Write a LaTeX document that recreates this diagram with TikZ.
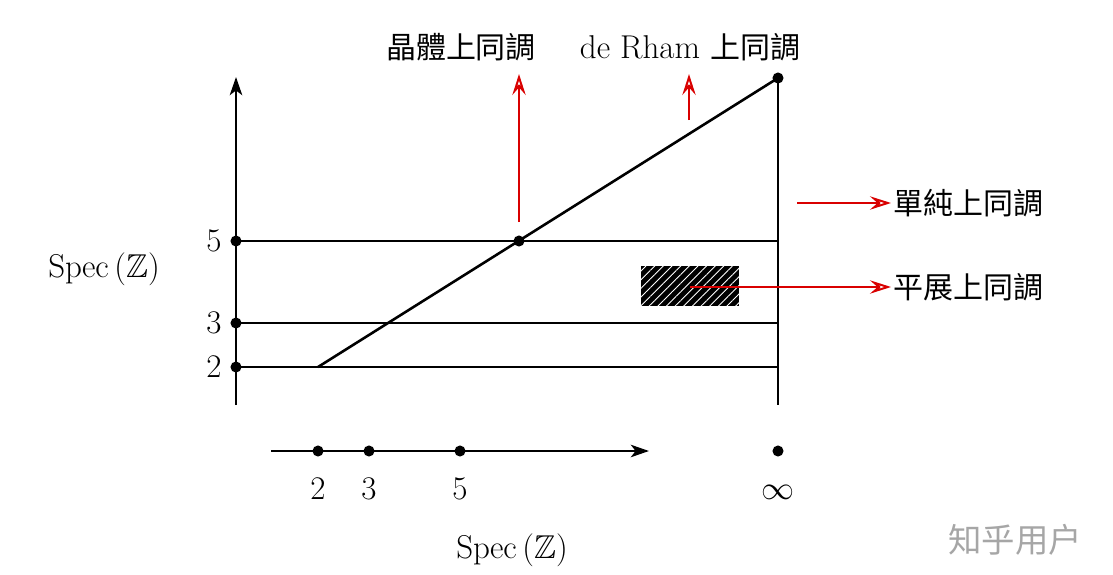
\documentclass[tikz,border=0pt]{standalone}
\usepackage{fontspec}
\usepackage{amssymb}
\newfontfamily\cjk{Noto Sans CJK TC}
\newfontfamily\cjksc{Noto Sans CJK SC}
\usetikzlibrary{arrows.meta,patterns.meta}
\begin{document}
\begin{tikzpicture}[x=0.5236pt,y=-0.5236pt,
  axis/.style={line width=1.35pt,black},
  blackhead/.style={-{Stealth[length=9.5pt,width=6.5pt,inset=2.5pt]}},
  redarrow/.style={line width=1.05pt,red!85!black,-{Stealth[open,length=11pt,width=7pt,inset=4pt]}},
  dot/.style={circle,fill=black,inner sep=0pt,minimum size=5.8pt},
  lbl/.style={font=\fontsize{17.28}{20}\selectfont,inner sep=1pt},
  cjklbl/.style={font=\fontsize{15.7}{18}\selectfont,inner sep=1pt}]
\useasboundingbox (0,0) rectangle (1113,575);
% vertical axis
\coordinate (yb) at (236,405);
\coordinate (yt) at (236,77);
\draw[axis,blackhead] (yb) -- (yt);
\node[dot] (y5) at (236,241) {};
\node[dot] (y3) at (236,323) {};
\node[dot] (y2) at (236,367) {};
\node[lbl] (l5) at (214,241) {$5$};
\node[lbl] (l3) at (214,323) {$3$};
\node[lbl] (l2) at (214,367) {$2$};
\node[lbl] (specl) at (104,269) {$\mathrm{Spec}\,(\mathbb{Z})$};
% right vertical line
\node[dot] (top) at (778,78) {};
\coordinate (rb) at (778,405);
\coordinate (r5) at (778,241);
\coordinate (r3) at (778,323);
\coordinate (r2) at (778,367);
\draw[axis] (top.center) -- (rb);
\draw[axis] (y5.center) -- (r5);
\draw[axis] (y3.center) -- (r3);
\draw[axis] (y2.center) -- (r2);
% diagonal
\coordinate (d0) at (318,367);
\node[dot] (mid) at (519,241) {};
\draw[axis] (d0) -- (top.center);
% hatched box
\fill[black] (641,266) rectangle (739,306);
\fill[pattern={Lines[angle=45,distance=3.2pt,line width=0.45pt]},pattern color=white] (641,266) rectangle (739,306);
% bottom axis
\coordinate (xa) at (271,451);
\coordinate (xb) at (649,451);
\draw[axis,blackhead] (xa) -- (xb);
\node[dot] (x2) at (318,451) {};
\node[dot] (x3) at (369,451) {};
\node[dot] (x5) at (460,451) {};
\node[dot] (xinf) at (778,451) {};
\node[lbl] (b2) at (318,489) {$2$};
\node[lbl] (b3) at (369,489) {$3$};
\node[lbl] (b5) at (460,489) {$5$};
\node[lbl] (binf) at (778,492) {$\infty$};
\node[lbl] (specb) at (512,550) {$\mathrm{Spec}\,(\mathbb{Z})$};
% red arrows and labels
\node[cjklbl] (crys) at (461,47) {\cjk 晶體上同調};
\node[lbl] (drham) at (690,47) {de Rham {\fontsize{15.7}{18}\cjk 上同調}};
\coordinate (c0) at (519,222);
\coordinate (c1) at (519,74);
\draw[redarrow] (c0) -- (c1);
\coordinate (dr0) at (689,120);
\coordinate (dr1) at (689,74);
\draw[redarrow] (dr0) -- (dr1);
\node[cjklbl,anchor=west] (simp) at (891,203) {\cjk 單純上同調};
\coordinate (s0) at (797,203);
\draw[redarrow] (s0) -- (simp.west);
\node[cjklbl,anchor=west] (etale) at (891,287) {\cjk 平展上同調};
\coordinate (e0) at (690,287);
\draw[redarrow] (e0) -- (etale.west);
% watermark
\node[font=\fontsize{17.5}{20}\selectfont\cjksc,text=black!35] (wm) at (1015,540) {知乎用户};
\end{tikzpicture}
\end{document}
